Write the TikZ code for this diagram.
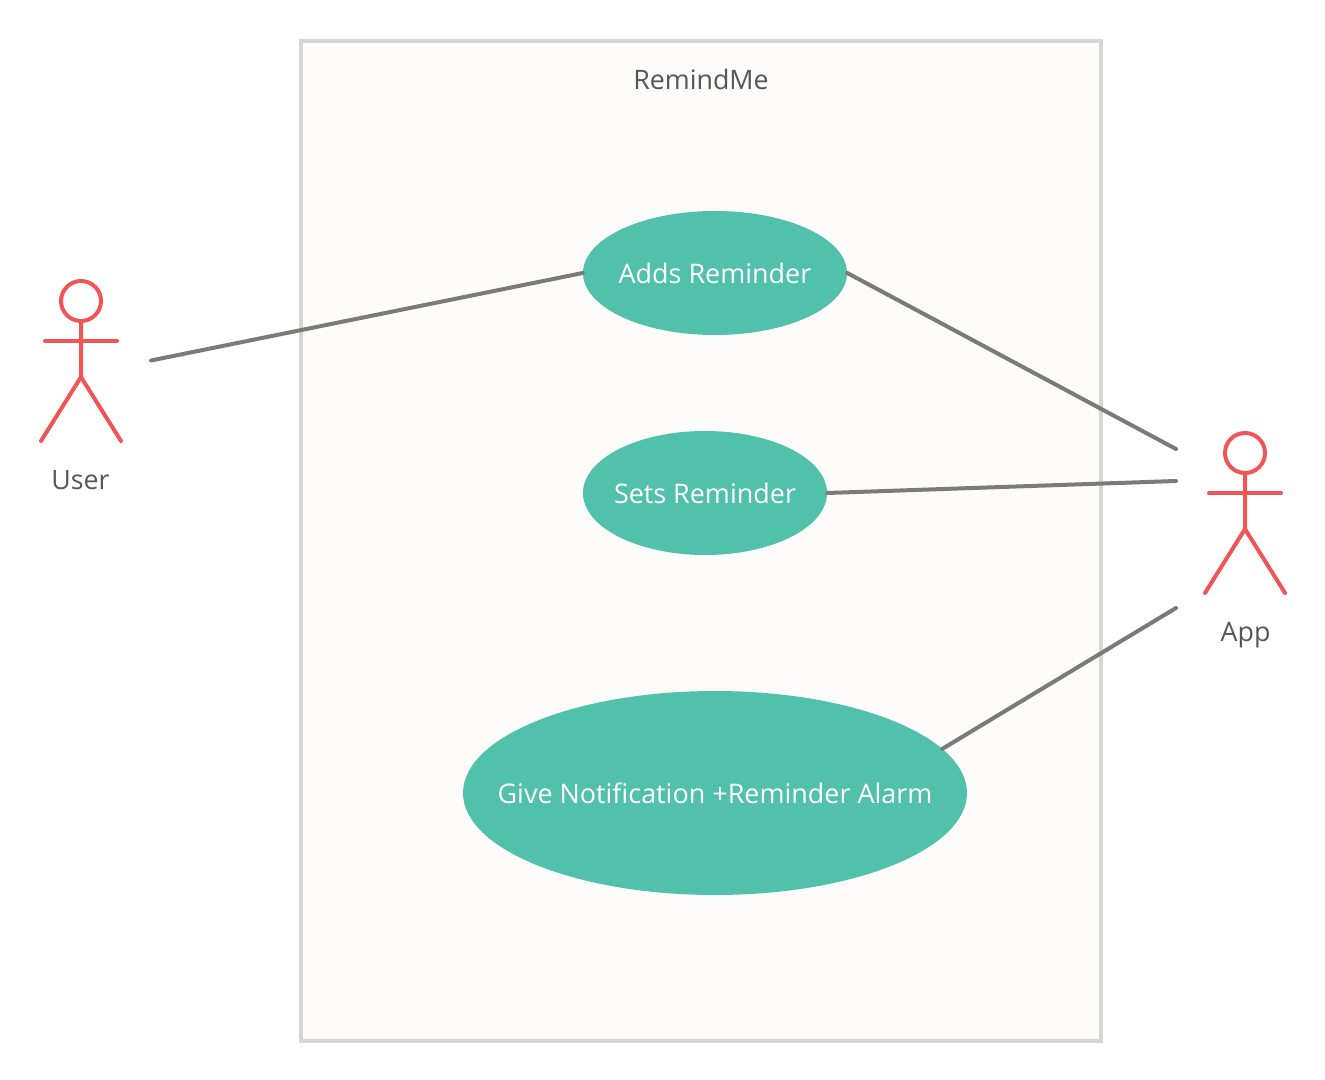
\documentclass[tikz,border=0pt]{standalone}
\usepackage{fontspec}
\setmainfont{Open Sans}
\usepackage{xcolor}
\definecolor{usecasegreen}{HTML}{51C1AB}
\definecolor{actorred}{HTML}{F05558}
\definecolor{linegray}{HTML}{7C7A78}
\definecolor{textgray}{HTML}{55565A}
\definecolor{boxgray}{HTML}{D6D6D4}
\definecolor{boxfill}{HTML}{FDFCFA}
\usetikzlibrary{shapes.geometric}
\newcommand{\casetext}[1]{\makebox[0pt]{\raisebox{-0.75pt}{#1}}}
\tikzset{
    usecase/.style={ellipse,fill=usecasegreen,text=white,font=\fontsize{20.2}{24}\selectfont,inner sep=0pt},
    label text/.style={text=textgray,font=\fontsize{20.1}{24}\selectfont},
    actorhead/.style={circle,draw=actorred,line width=3pt,minimum size=30pt,inner sep=0pt},
    actor/.style={draw=actorred,line width=3pt,line cap=round},
    assoc/.style={draw=linegray,line width=3pt,line cap=round}
}
\begin{document}
\begin{tikzpicture}[x=0.75pt,y=-0.75pt]
    \useasboundingbox (0,0) rectangle (1325,1080);
    \node[draw=boxgray,fill=boxfill,line width=3pt,minimum width=600pt,minimum height=750pt,inner sep=0pt] (system) at (701,541) {};
    \node[label text] (title) at (701,79.5) {RemindMe};
    \node[usecase,minimum width=198pt,minimum height=93pt] (adds) at (715,273) {\casetext{Adds Reminder}};
    \node[usecase,minimum width=183pt,minimum height=93pt] (sets) at (705,493) {\casetext{Sets Reminder}};
    \node[usecase,minimum width=378pt,minimum height=153pt] (give) at (715,793) {\casetext{Give Notification +Reminder Alarm}};
    % user
    \node[actorhead] (userhead) at (81,301) {};
    \coordinate (userhip) at (81,377);
    \coordinate (userfootl) at (41,441);
    \coordinate (userfootr) at (121,441);
    \coordinate (userarml) at (45,341);
    \coordinate (userarmr) at (117,341);
    \draw[actor] (userhead) -- (userhip) -- (userfootl);
    \draw[actor] (userhip) -- (userfootr);
    \draw[actor] (userarml) -- (userarmr);
    \node[label text] (user) at (80.5,480) {User};
    % app
    \node[actorhead] (apphead) at (1245,453) {};
    \coordinate (apphip) at (1245,529);
    \coordinate (appfootl) at (1205,593);
    \coordinate (appfootr) at (1285,593);
    \coordinate (apparml) at (1209,493);
    \coordinate (apparmr) at (1281,493);
    \draw[actor] (apphead) -- (apphip) -- (appfootl);
    \draw[actor] (apphip) -- (appfootr);
    \draw[actor] (apparml) -- (apparmr);
    \node[label text] (app) at (1245.5,635.5) {App};
    % associations
    \coordinate (userend) at (151,360.5);
    \coordinate (append1) at (1176,449);
    \coordinate (append2) at (1176,481);
    \coordinate (append3) at (1176,608);
    \draw[assoc] (userend) -- (adds.west);
    \draw[assoc] (adds.east) -- (append1);
    \draw[assoc] (sets.east) -- (append2);
    \draw[assoc] (give.11.3) -- (append3);
\end{tikzpicture}
\end{document}
